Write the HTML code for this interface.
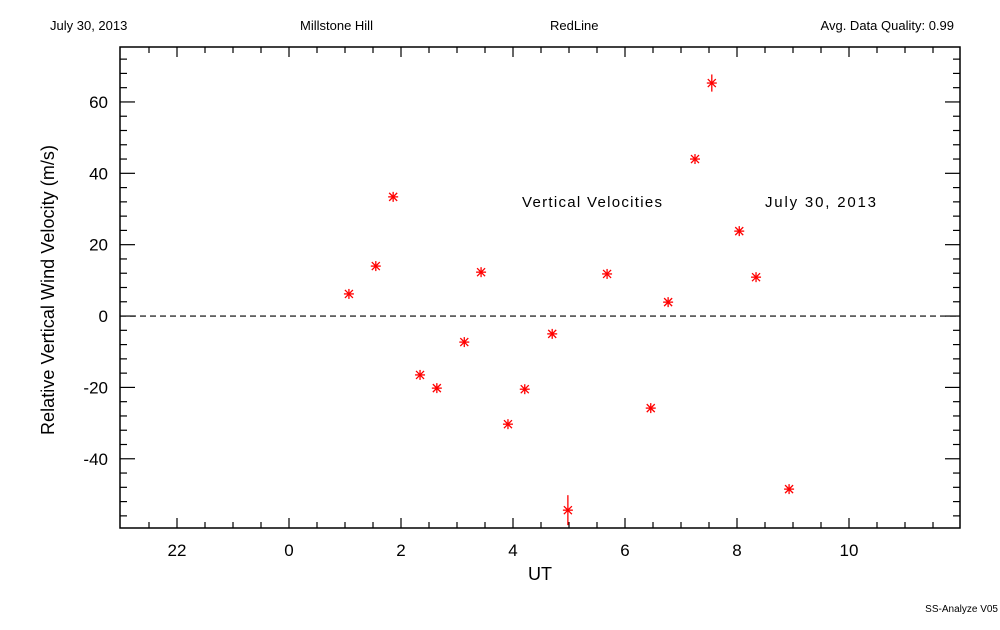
<!DOCTYPE html>
<html><head><meta charset="utf-8"><style>
body{margin:0;background:#fff}
svg text{font-family:"Liberation Sans",sans-serif}
</style></head><body>
<svg id="chart" width="1000" height="625" xmlns="http://www.w3.org/2000/svg">
<rect width="1000" height="625" fill="#fff"/>
<g font-size="13" fill="#000">
<text x="50" y="30">July 30, 2013</text>
<text x="300" y="30">Millstone Hill</text>
<text x="550" y="30">RedLine</text>
<text x="954" y="30" text-anchor="end">Avg. Data Quality: 0.99</text>
<text x="998" y="612" text-anchor="end" font-size="10">SS-Analyze V05</text>
</g>
<g id="axes"></g>
<g id="marks"></g>
<text x="522" y="207" font-size="15" textLength="140">Vertical Velocities</text>
<text x="765" y="207" font-size="15" textLength="111">July 30, 2013</text>
<text x="540" y="580" font-size="18" text-anchor="middle">UT</text>
<text x="54" y="290" font-size="18" text-anchor="middle" transform="rotate(-90 54 290)" textLength="290">Relative Vertical Wind Velocity (m/s)</text>
</svg>
<script>
const hours = [1.07,1.55,1.86,2.34,2.64,3.13,3.43,3.91,4.21,4.70,4.98,5.68,6.46,6.77,7.25,7.55,8.04,8.34,8.93];
const velocities = [6.2,14,33.4,-16.5,-20.2,-7.3,12.3,-30.3,-20.5,-5.0,-54.4,11.8,-25.8,3.9,44,65.3,23.8,10.9,-48.5];
const errors = [0,0,0,0,0,0,0,0,0,0,2.8,0,0,0,0,1,0,0,0];
const xTicks = [-2,0,2,4,6,8,10];
const xTickLabels = ["22","0","2","4","6","8","10"];
const yTicks = [-40,-20,0,20,40,60];

const NS="http://www.w3.org/2000/svg";
const L=120,R=960,T=47,B=528;
const X0=-3,X1=12,Y0=-59.4,Y1=75.4;
function sx(v){return 1+L+(v-X0)/(X1-X0)*(R-L);}
function sy(v){return B-(v-Y0)/(Y1-Y0)*(B-T);}
function mk(tag,attrs,parent){const e=document.createElementNS(NS,tag);for(const k in attrs)e.setAttribute(k,attrs[k]);parent.appendChild(e);return e;}
const ax=document.getElementById('axes'), mg=document.getElementById('marks');
const frame=mk('rect',{x:L,y:T,width:R-L,height:B-T,fill:'none',stroke:'#000','stroke-width':1.5},ax);


for(let h=X0+0.5;h<X1;h+=0.5){
  const major=Math.abs(h/2-Math.round(h/2))<1e-6;
  const len=major?10:6;
  mk('line',{x1:sx(h),x2:sx(h),y1:B,y2:B-len,stroke:'#000','stroke-width':1.2},ax);
  mk('line',{x1:sx(h),x2:sx(h),y1:T,y2:T+len,stroke:'#000','stroke-width':1.2},ax);
}
xTicks.forEach((t,i)=>{
  const tx=mk('text',{x:sx(t),y:556,'font-size':17,'text-anchor':'middle'},ax);
  tx.textContent=xTickLabels[i];
  
  
});
for(let v=-56;v<=72;v+=4){
  const major=v%20===0;
  const len=major?15:7;
  mk('line',{x1:L,x2:L+len,y1:sy(v),y2:sy(v),stroke:'#000','stroke-width':1.2},ax);
  mk('line',{x1:R,x2:R-len,y1:sy(v),y2:sy(v),stroke:'#000','stroke-width':1.2},ax);
}
yTicks.forEach(t=>{
  const tx=mk('text',{x:108,y:sy(t)+6,'font-size':17,'text-anchor':'end'},ax);
  tx.textContent=String(t);
  
  
});
const zl=mk('line',{x1:L,x2:R,y1:sy(0),y2:sy(0),stroke:'#000','stroke-width':1.2,'stroke-dasharray':'6,4'},ax);


hours.forEach((h,i)=>{
  const cx=sx(h),cy=sy(velocities[i]);
  const g=mk('g',{stroke:'#f00','stroke-width':1.3},mg);
  
  
  const e=errors[i];
  mk('line',{x1:cx,x2:cx,y1:sy(velocities[i]+e)-5,y2:sy(velocities[i]-e)+5},g);
  mk('line',{x1:cx-5,x2:cx+5,y1:cy,y2:cy},g);
  mk('line',{x1:cx-4,x2:cx+4,y1:cy-4,y2:cy+4},g);
  mk('line',{x1:cx-4,x2:cx+4,y1:cy+4,y2:cy-4},g);
});
</script>
</body></html>
